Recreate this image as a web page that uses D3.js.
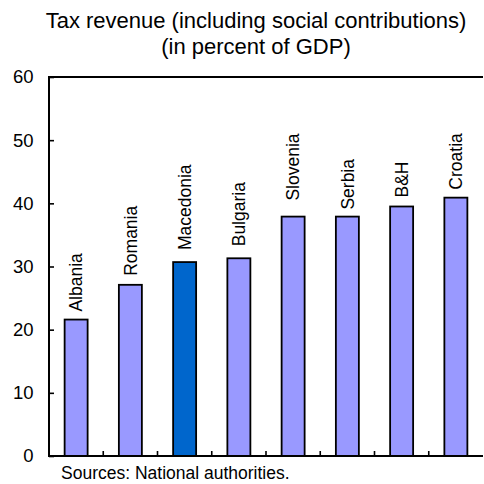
<!DOCTYPE html>
<html>
<head>
<meta charset="utf-8">
<script src="https://cdn.jsdelivr.net/npm/d3@7"></script>
<style>
  html, body { margin: 0; padding: 0; background: #fff; }
  svg { display: block; font-family: "Liberation Sans", Arial, sans-serif; }
</style>
</head>
<body>
<svg id="chart" width="484" height="484"></svg>
<script>
// Tax revenue, percent of GDP
const countries = ["Albania", "Romania", "Macedonia", "Bulgaria", "Slovenia", "Serbia", "B&H", "Croatia"];
const taxRevenue = [21.6, 27.1, 30.7, 31.3, 37.9, 37.9, 39.5, 40.9];
const highlighted = ["Macedonia"];
const yTicks = [0, 10, 20, 30, 40, 50, 60];
const titleLines = ["Tax revenue (including social contributions)", "(in percent of GDP)"];
const sourceNote = "Sources: National authorities.";

// Gap in px between each bar top and its rotated label
const labelGap = [8, 9, 12, 12, 16, 7, 9, 8];

const svg = d3.select("#chart");
const margin = { left: 49, right: 1, top: 77, bottom: 28 };
const W = 484, H = 484;

const x = d3.scaleBand()
  .domain(countries)
  .range([margin.left, W - margin.right])
  .paddingInner(0.576)
  .paddingOuter(0.288);

const y = d3.scaleLinear()
  .domain([0, 60])
  .range([H - margin.bottom, margin.top]);

// Title
svg.append("g").selectAll("text")
  .data(titleLines)
  .join("text")
  .attr("x", 256)
  .attr("y", (d, i) => 28 + i * 26)
  .attr("text-anchor", "middle")
  .attr("font-size", 22)
  .attr("fill", "#000")
  .text(d => d);

// Bars
svg.append("g").selectAll("rect")
  .data(countries)
  .join("rect")
  .attr("x", d => x(d))
  .attr("width", x.bandwidth())
  .attr("y", (d, i) => y(taxRevenue[i]))
  .attr("height", (d, i) => y(0) - y(taxRevenue[i]))
  .attr("fill", d => highlighted.includes(d) ? "#0066CC" : "#9999FF")
  .attr("stroke", "#000")
  .attr("stroke-width", 1.8);

// Category labels, rotated above each bar
svg.append("g").selectAll("text")
  .data(countries)
  .join("text")
  .attr("transform", (d, i) => `translate(${x(d) + x.bandwidth() / 2 + 6.2},${y(taxRevenue[i]) - labelGap[i]}) rotate(-90)`)
  .attr("text-anchor", "start")
  .attr("font-size", 17.5)
  .attr("fill", "#000")
  .text(d => d);

// Y axis
const yAxis = d3.axisLeft(y).tickValues(yTicks).tickSize(-5).tickPadding(15.5);
const gy = svg.append("g")
  .attr("transform", `translate(${margin.left},0)`)
  .call(yAxis);
gy.select(".domain").remove();
gy.selectAll("line").attr("stroke", "#000").attr("stroke-width", 1.6);
gy.selectAll("text").attr("font-size", 18.5).attr("fill", "#000")
  .attr("font-family", "'Liberation Sans', Arial, sans-serif");

// Axis frame lines: left, top and bottom
const frame = svg.append("g").attr("stroke", "#000").attr("stroke-width", 2).attr("fill", "none");
frame.append("line").attr("x1", margin.left).attr("x2", margin.left).attr("y1", y(60) - 1).attr("y2", y(0) + 1);
frame.append("line").attr("x1", margin.left).attr("x2", W - margin.right).attr("y1", y(60)).attr("y2", y(60));
frame.append("line").attr("x1", margin.left).attr("x2", W - margin.right).attr("y1", y(0)).attr("y2", y(0));

// Category separator ticks on the x axis
const step = x.step();
const boundaries = countries.slice(1).map(d => x(d) - (step - x.bandwidth()) / 2);
svg.append("g").selectAll("line")
  .data(boundaries)
  .join("line")
  .attr("x1", d => d).attr("x2", d => d)
  .attr("y1", y(0)).attr("y2", y(0) - 5)
  .attr("stroke", "#000").attr("stroke-width", 1.6);

// Source note
svg.append("text")
  .attr("x", 61)
  .attr("y", 479)
  .attr("font-size", 17.5)
  .attr("fill", "#000")
  .text(sourceNote);
</script>
</body>
</html>
